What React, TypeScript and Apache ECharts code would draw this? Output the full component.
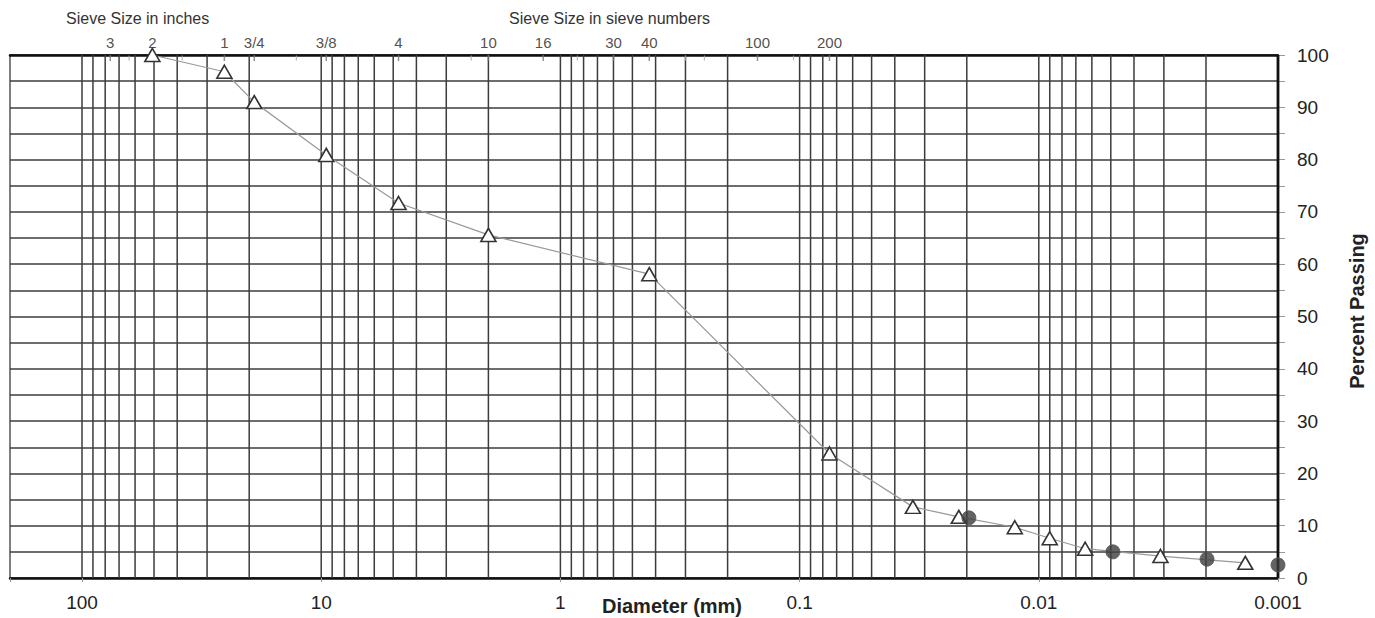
import React, { useEffect, useRef } from "react";
import * as echarts from "echarts";

// Sieve size labels on the top edge (mm positions)
const inchLabels = ["3", "2", "1", "3/4", "3/8"];
const inchSizes = [76.2, 50.8, 25.4, 19.05, 9.525];
const sieveLabels = ["4", "10", "16", "30", "40", "100", "200"];
const sieveSizes = [4.75, 2.0, 1.18, 0.6, 0.425, 0.15, 0.075];
const minorSieveSizes = [63.5, 38.1, 12.7, 2.36, 0.85, 0.3, 0.25, 0.106];

// Sieve / hydrometer results (triangles, connected)
const triDiam = [50.8, 25.4, 19.05, 9.525, 4.75, 2.0, 0.425, 0.075, 0.0336, 0.0216, 0.0126, 0.009, 0.0064, 0.0031, 0.00137];
const triPct = [100, 96.8, 91, 80.9, 71.7, 65.6, 58.1, 23.8, 13.6, 11.7, 9.7, 7.6, 5.6, 4.2, 2.9];

// Filled circle results
const circDiam = [0.0196, 0.0049, 0.00198, 0.001];
const circPct = [11.5, 5.0, 3.6, 2.5];

// Axis settings
const xMin = 0.001;
const xMax = 200;
const decades = [100, 10, 1, 0.1, 0.01, 0.001];
const multipliers = [1, 2, 3, 4, 5, 6, 7, 8, 9];

const FONT = "'Liberation Sans', Arial, sans-serif";
const GRID_COLOR = "#3c3c3c";

export default function App() {
  const ref = useRef<HTMLDivElement>(null);

  useEffect(() => {
    document.body.style.margin = "0";
    if (!ref.current) return;
    const chart = echarts.init(ref.current, undefined, { renderer: "svg" });

    const gridValues: number[] = [];
    decades.forEach((d) =>
      multipliers.forEach((m) => {
        const v = parseFloat((d * m).toPrecision(6));
        if (v > xMin * 1.0001 && v < xMax * 0.9999) gridValues.push(v);
      })
    );

    const topTicks = [
      ...inchSizes.map((s, i) => ({ value: [s, 100], name: inchLabels[i] })),
      ...sieveSizes.map((s, i) => ({ value: [s, 100], name: sieveLabels[i] })),
    ];

    const fmtX = (v: number) => {
      const l = Math.log10(v);
      if (Math.abs(l - Math.round(l)) > 1e-6) return "";
      const e = Math.round(l);
      return e >= 0 ? String(Math.round(v)) : v.toFixed(-e);
    };

    const vLine = (color: string, width: number) => (params: any, api: any) => {
      const v = api.value(0);
      const p0 = api.coord([v, 0]);
      const p1 = api.coord([v, 100]);
      return {
        type: "line",
        shape: { x1: p0[0], y1: p0[1], x2: p1[0], y2: p1[1] },
        style: { stroke: color, lineWidth: width },
        silent: true,
      };
    };

    chart.setOption({
      animation: false,
      grid: {
        left: 10,
        right: 97,
        top: 55,
        bottom: 40,
        show: true,
        borderColor: "#555",
        borderWidth: 1.5,
      },
      xAxis: [
        {
          type: "log",
          logBase: 10,
          min: xMin,
          max: xMax,
          inverse: true,
          position: "bottom",
          axisLine: { show: true, onZero: false, lineStyle: { color: "#111", width: 2.5 } },
          axisTick: { show: true, length: 4, lineStyle: { color: "#999" } },
          splitLine: { show: false },
          axisLabel: {
            formatter: fmtX,
            fontSize: 19,
            color: "#222",
            fontFamily: FONT,
            margin: 15,
            showMinLabel: true,
            showMaxLabel: true,
          },
        },
        {
          type: "log",
          logBase: 10,
          min: xMin,
          max: xMax,
          inverse: true,
          position: "top",
          axisLine: { show: true, onZero: false, lineStyle: { color: "#111", width: 2.5 } },
          axisTick: { show: false },
          axisLabel: { show: false },
          splitLine: { show: false },
        },
      ],
      yAxis: {
        type: "value",
        min: 0,
        max: 100,
        interval: 5,
        position: "right",
        axisLine: { show: false, onZero: false },
        axisTick: { show: true, length: 7, lineStyle: { color: "#999" } },
        splitLine: { show: true, lineStyle: { color: GRID_COLOR, width: 1.5 } },
        axisLabel: {
          formatter: (v: number) => (v % 10 === 0 ? String(v) : ""),
          fontSize: 19,
          color: "#222",
          fontFamily: FONT,
          margin: 19,
        },
      },
      graphic: [
        {
          type: "text",
          x: 672,
          y: 606,
          style: {
            text: "Diameter (mm)",
            font: `bold 20px ${FONT}`,
            fill: "#222",
            textAlign: "center",
            textVerticalAlign: "middle",
          },
        },
        {
          type: "text",
          x: 1357,
          y: 311,
          rotation: Math.PI / 2,
          style: {
            text: "Percent Passing",
            font: `bold 20px ${FONT}`,
            fill: "#222",
            textAlign: "center",
            textVerticalAlign: "middle",
          },
        },
        {
          type: "text",
          x: 66,
          y: 18,
          style: {
            text: "Sieve Size in inches",
            font: `16px ${FONT}`,
            fill: "#333",
            textAlign: "left",
            textVerticalAlign: "middle",
          },
        },
        {
          type: "text",
          x: 509,
          y: 18,
          style: {
            text: "Sieve Size in sieve numbers",
            font: `16px ${FONT}`,
            fill: "#333",
            textAlign: "left",
            textVerticalAlign: "middle",
          },
        },
      ],
      series: [
        {
          type: "custom",
          data: gridValues.map((v) => [v, 0]),
          renderItem: vLine(GRID_COLOR, 1.5),
          silent: true,
          clip: false,
          z: 1,
        },
        {
          type: "custom",
          data: [[xMin, 0]],
          renderItem: vLine("#111", 2.8),
          silent: true,
          clip: false,
          z: 4,
        },
        {
          type: "scatter",
          data: minorSieveSizes.map((s) => [s, 100]),
          symbol: "rect",
          symbolSize: [1.2, 5],
          symbolOffset: [0, 3],
          itemStyle: { color: "#aaa" },
          silent: true,
          clip: false,
          z: 3,
        },
        {
          type: "scatter",
          data: topTicks,
          symbol: "rect",
          symbolSize: [1.5, 6],
          symbolOffset: [0, 3],
          itemStyle: { color: "#777" },
          silent: true,
          clip: false,
          z: 3,
          label: {
            show: true,
            position: "top",
            distance: 5,
            formatter: "{b}",
            fontSize: 15,
            color: "#222",
            fontFamily: FONT,
          },
        },
        {
          type: "line",
          data: triDiam.map((d, i) => [d, triPct[i]]),
          symbol: "triangle",
          symbolSize: [15, 13],
          showAllSymbol: true,
          clip: false,
          z: 5,
          lineStyle: { color: "#999", width: 1.2 },
          itemStyle: { color: "#fff", borderColor: "#333", borderWidth: 1.6 },
        },
        {
          type: "scatter",
          data: circDiam.map((d, i) => [d, circPct[i]]),
          symbol: "circle",
          symbolSize: 14,
          clip: false,
          z: 6,
          itemStyle: { color: "#3c3c3c", borderColor: "#555", borderWidth: 1 },
        },
      ],
    });

    return () => chart.dispose();
  }, []);

  return <div ref={ref} style={{ width: 1375, height: 618 }} />;
}
